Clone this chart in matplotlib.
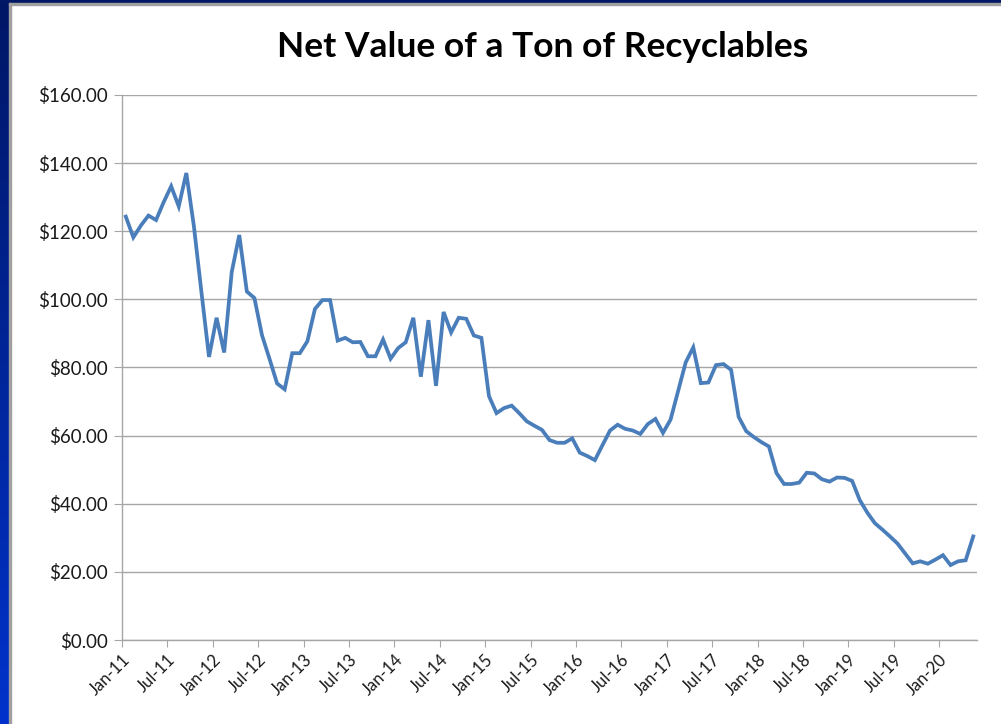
import numpy as np
import matplotlib.pyplot as plt
from matplotlib.patches import Rectangle

# monthly net value per ton, Jan-2011 .. May-2020
values = [
    124.3, 118.2, 121.7, 124.6, 123.3, 128.5, 133.2, 127.3, 137.1, 121.5,
    102.1, 83.1, 94.6, 84.4, 108.0, 118.9, 102.3, 100.4, 89.5, 82.5,
    75.3, 73.6, 84.2, 84.2, 87.7, 97.2, 99.8, 99.8, 87.9, 88.7,
    87.4, 87.5, 83.3, 83.3, 88.2, 82.6, 85.7, 87.4, 94.6, 77.3,
    93.9, 74.6, 96.3, 90.3, 94.6, 94.3, 89.4, 88.7, 71.6, 66.6,
    68.1, 68.8, 66.6, 64.2, 62.9, 61.7, 58.7, 57.9, 57.9, 59.2,
    55.0, 54.0, 52.8, 57.2, 61.5, 63.2, 62.0, 61.5, 60.5, 63.4,
    64.9, 60.8, 64.7, 73.1, 81.5, 85.9, 75.4, 75.6, 80.7, 81.0,
    79.3, 65.5, 61.3, 59.6, 58.1, 56.8, 49.0, 45.8, 45.8, 46.2,
    49.1, 48.9, 47.2, 46.5, 47.7, 47.6, 46.7, 41.1, 37.4, 34.3,
    32.4, 30.4, 28.3, 25.4, 22.5, 23.1, 22.4, 23.6, 24.9, 22.0,
    23.1, 23.4, 30.4,
]
tick_labels = ["Jan-11", "Jul-11", "Jan-12", "Jul-12", "Jan-13", "Jul-13",
               "Jan-14", "Jul-14", "Jan-15", "Jul-15", "Jan-16", "Jul-16",
               "Jan-17", "Jul-17", "Jan-18", "Jul-18", "Jan-19", "Jul-19",
               "Jan-20"]
title = "Net Value of a Ton of Recyclables"

plt.rcParams['font.family'] = ['Lato', 'DejaVu Sans']

W, H = 1001, 724
fig = plt.figure(figsize=(W / 100, H / 100), dpi=100)
fig.patch.set_facecolor('white')

# slide frame: blue gradient strip on the left, navy strip on top
strip = fig.add_axes([0, 0, 9 / W, 1])
grad = np.linspace(0, 1, 256).reshape(-1, 1)
top_c = np.array([0.0, 0.09, 0.40])
bot_c = np.array([0.0, 0.20, 0.80])
img = top_c + (bot_c - top_c) * grad[..., None]
strip.imshow(img, aspect='auto', extent=[0, 1, 0, 1], origin='upper')
strip.axis('off')
fig.add_artist(Rectangle((0, 1 - 3 / H), 1, 3 / H, transform=fig.transFigure,
                         color='#001866', zorder=5))
fig.add_artist(Rectangle((9 / W, 0), 2 / W, 1 - 3 / H, transform=fig.transFigure,
                         color='#a0a0a0', zorder=5))
fig.add_artist(Rectangle((9 / W, 1 - 5 / H), 1, 2 / H, transform=fig.transFigure,
                         color='#a0a0a0', zorder=5))

ax = fig.add_axes([122 / W, 84 / H, 855 / W, 545 / H])
x = np.arange(len(values)) + 0.5
ax.plot(x, values, color='#4a7ebb', lw=2.7, solid_joinstyle='miter')

ax.set_xlim(0, len(values))
ax.set_ylim(0, 160)
ax.set_yticks(np.arange(0, 161, 20))
ax.set_yticklabels([f"${v:.2f}" for v in np.arange(0, 161, 20)])
ax.set_xticks(np.arange(0, 6 * len(tick_labels), 6))
ax.set_xticklabels(tick_labels, rotation=45, ha='right', rotation_mode='anchor')

ax.grid(axis='y', color='#a6a6a6', lw=1.0)
ax.set_axisbelow(True)
for s in ['top', 'right']:
    ax.spines[s].set_visible(False)
for s in ['left', 'bottom']:
    ax.spines[s].set_color('#a6a6a6')
    ax.spines[s].set_linewidth(1.0)
ax.tick_params(axis='y', length=6, color='#a6a6a6', labelsize=13.5,
               labelcolor='#1a1a1a', pad=4)
ax.tick_params(axis='x', length=5, color='#a6a6a6', labelsize=12,
               labelcolor='#1a1a1a', pad=3)

fig.text(543 / W, 1 - 47 / H, title, ha='center', va='center',
         fontsize=25.5, fontweight='bold', color='black')

fig.savefig('out.png', dpi=100)
